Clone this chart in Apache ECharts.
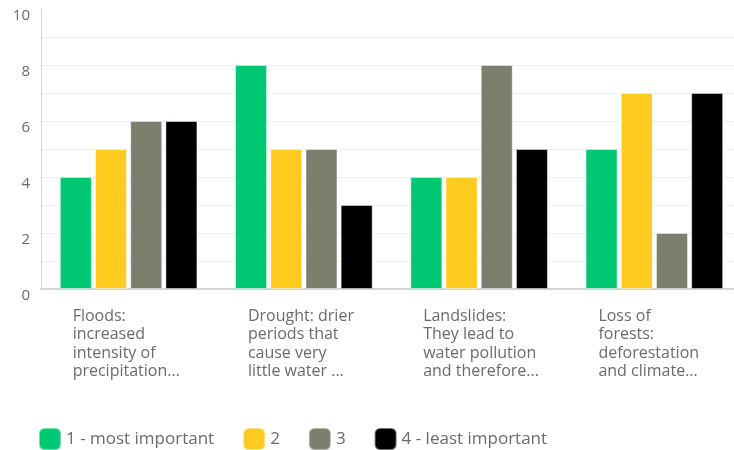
<!DOCTYPE html>
<html>
<head>
<meta charset="utf-8">
<script src="https://cdn.jsdelivr.net/npm/echarts@6/dist/echarts.min.js"></script>
<style>html,body{margin:0;padding:0;background:#fff;}#c{width:734px;height:450px;}</style>
</head>
<body>
<div id="c"></div>
<script>
var categories = [
  'Floods:\nincreased\nintensity of\nprecipitation...',
  'Drought: drier\nperiods that\ncause very\nlittle water ...',
  'Landslides:\nThey lead to\nwater pollution\nand therefore...',
  'Loss of\nforests:\ndeforestation\nand climate...'
];
var seriesNames = ['1 - most important', '2', '3', '4 - least important'];
var s1 = [4, 8, 4, 5];
var s2 = [5, 5, 4, 7];
var s3 = [6, 5, 8, 2];
var s4 = [6, 3, 5, 7];
var colors = ['#00C772', '#FFCB1F', '#7E7E6E', '#000000'];

var FONT = '"Open Sans", Roboto, sans-serif';
var chart = echarts.init(document.getElementById('c'), null, {renderer: 'canvas'});
var seriesData = [s1, s2, s3, s4];
var series = seriesData.map(function (d, i) {
  return {
    name: seriesNames[i],
    type: 'bar',
    data: d,
    barWidth: 32,
    barGap: '10%',
    itemStyle: {color: colors[i], borderColor: 'rgba(255,255,255,0.45)', borderWidth: 1},
    emphasis: {disabled: true}
  };
});
chart.setOption({
  animation: false,
  color: colors,
  textStyle: {fontFamily: FONT},
  grid: {left: 41, top: 9, height: 280, width: 701, containLabel: false, outerBoundsMode: 'none'},
  legend: {
    left: 33, top: 422,
    icon: 'roundRect',
    itemWidth: 22, itemHeight: 22, itemGap: 28,
    textStyle: {color: '#6b6b6b', fontSize: 17, fontFamily: FONT},
    data: seriesNames
  },
  xAxis: {
    type: 'category',
    data: categories,
    axisTick: {show: false},
    axisLine: {lineStyle: {color: '#d4d4d4', width: 2}},
    axisLabel: {
      interval: 0,
      margin: 18,
      align: 'center',
      formatter: function (v) { return '{t|' + v + '}'; },
      rich: {
        t: {width: 112, align: 'left', fontSize: 16, lineHeight: 18.5, color: '#6b6b6b', fontFamily: FONT}
      }
    }
  },
  yAxis: {
    type: 'value',
    min: 0, max: 10, interval: 2,
    axisLine: {show: true, lineStyle: {color: '#d4d4d4', width: 1}},
    axisTick: {show: false},
    axisLabel: {
      margin: 11, fontSize: 15, color: '#6b6b6b', fontFamily: FONT,
      verticalAlign: 'top', lineHeight: 14
    },
    splitLine: {show: true, lineStyle: {color: ['#efefef', '#efefef', '#efefef', '#efefef', '#efefef', 'rgba(0,0,0,0)'], width: 1}},
    minorTick: {show: false, splitNumber: 2},
    minorSplitLine: {show: true, lineStyle: {color: '#efefef', width: 1}}
  },
  series: series
});
</script>
</body>
</html>
